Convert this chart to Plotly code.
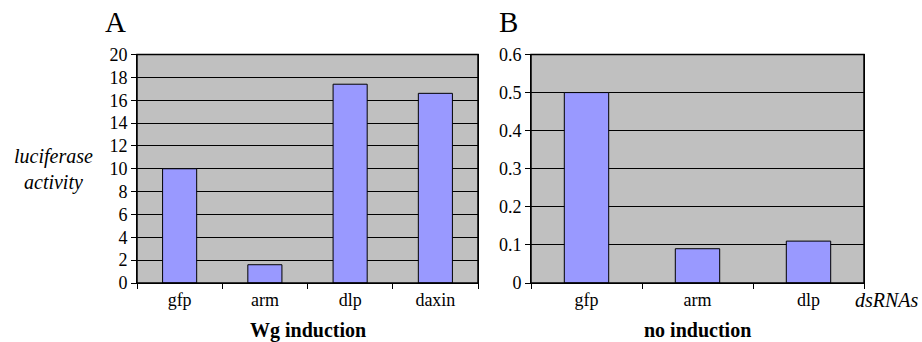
import plotly.graph_objects as go

cats_a = ["gfp", "arm", "dlp", "daxin"]
vals_a = [10.0, 1.6, 17.4, 16.6]
cats_b = ["gfp", "arm", "dlp"]
vals_b = [0.5, 0.09, 0.11]
yticks_a = [0, 2, 4, 6, 8, 10, 12, 14, 16, 18, 20]
yticks_b = [0, 0.1, 0.2, 0.3, 0.4, 0.5, 0.6]

W, H = 922, 342
FONT = "Liberation Serif"
BAR = "#9999FF"
BG = "#C0C0C0"

def px(x):
    return x / W

def py(y):
    return 1 - y / H

fig = go.Figure()
fig.add_trace(go.Bar(x=cats_a, y=vals_a, xaxis="x", yaxis="y",
                     marker=dict(color=BAR, line=dict(color="black", width=1)),
                     hoverinfo="skip"))
fig.add_trace(go.Bar(x=cats_b, y=vals_b, xaxis="x2", yaxis="y2",
                     marker=dict(color=BAR, line=dict(color="black", width=1)),
                     hoverinfo="skip"))

xcommon = dict(type="category", showgrid=False, showline=True, linecolor="black",
               linewidth=1, mirror=True, ticks="outside", tickson="boundaries",
               ticklen=5, tickcolor="black", tickfont=dict(family=FONT, size=18, color="black"),
               zeroline=False, fixedrange=True, automargin=False)
ycommon = dict(showgrid=True, gridcolor="black", gridwidth=1, showline=True,
               linecolor="black", linewidth=1, mirror=True, ticks="outside",
               ticklen=5, tickcolor="black",
               tickfont=dict(family=FONT, size=18, color="black"),
               zeroline=False, fixedrange=True, automargin=False)

y_dom = [py(283), py(54.5)]

fig.update_layout(
    width=W, height=H,
    margin=dict(l=0, r=0, t=0, b=0),
    paper_bgcolor="white",
    plot_bgcolor=BG,
    showlegend=False,
    bargap=0.6,
    xaxis=dict(xcommon, domain=[px(137), px(478)], anchor="y"),
    yaxis=dict(ycommon, domain=y_dom, anchor="x", range=[0, 20],
               tickvals=yticks_a, ticktext=[str(v) for v in yticks_a]),
    xaxis2=dict(xcommon, domain=[px(531), px(864)], anchor="y2"),
    yaxis2=dict(ycommon, domain=y_dom, anchor="x2", range=[0, 0.6],
                tickvals=yticks_b, ticktext=["0", "0.1", "0.2", "0.3", "0.4", "0.5", "0.6"]),
    shapes=[
        dict(type="rect", xref="paper", yref="paper", x0=px(137), x1=px(478),
             y0=y_dom[0], y1=y_dom[1], line=dict(color="black", width=1.5), layer="above"),
        dict(type="rect", xref="paper", yref="paper", x0=px(531), x1=px(864),
             y0=y_dom[0], y1=y_dom[1], line=dict(color="black", width=1.5), layer="above"),
    ],
)

def ann(text, x, y, size, bold=False, italic=False, xanchor="center"):
    t = text
    if bold:
        t = "<b>" + t + "</b>"
    if italic:
        t = "<i>" + t + "</i>"
    fig.add_annotation(text=t, x=px(x), y=py(y), xref="paper", yref="paper",
                       showarrow=False, xanchor=xanchor, yanchor="middle",
                       font=dict(family=FONT, size=size, color="black"))

ann("A", 115.5, 22, 29)
ann("B", 508.5, 22, 29)
ann("luciferase<br>activity", 53, 170, 20, italic=True)
ann("Wg induction", 307.5, 330, 20, bold=True)
ann("no induction", 697.5, 330, 20, bold=True)
ann("dsRNAs", 921, 300, 20, italic=True, xanchor="right")

fig.write_html(
    "out.html",
    config={"displayModeBar": False, "staticPlot": True},
    post_script="document.body.style.margin='0';document.body.style.overflow='hidden';",
)
